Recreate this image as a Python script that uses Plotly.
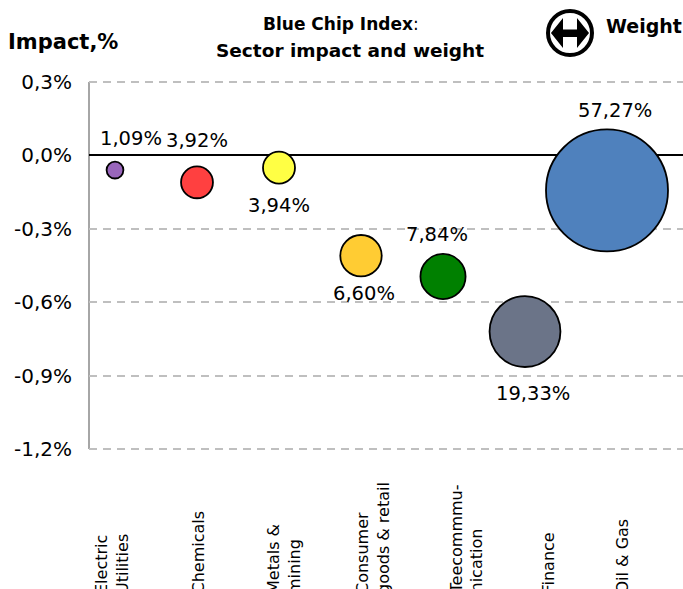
import plotly.graph_objects as go

W, H = 683, 589
positions = [1, 2, 3, 4, 5, 6, 7]
impact = [-0.06, -0.11, -0.05, -0.41, -0.495, -0.72, -0.143]
weight = [1.09, 3.92, 3.94, 6.60, 7.84, 19.33, 57.27]
weight_labels = ["1,09%", "3,92%", "3,94%", "6,60%", "7,84%", "19,33%", "57,27%"]
colors = ["#9966BB", "#FF4040", "#FFFF44", "#FFCC33", "#008000", "#6B7488", "#4F81BD"]
categories = ["Electric<br>Utilities", "Chemicals", "Metals &<br>mining", "Consumer<br>goods & retail",
              "Teecommmu-<br>nication", "Finance", "Oil & Gas"]
y_ticks = [0.3, 0.0, -0.3, -0.6, -0.9, -1.2]
y_tick_labels = ["0,3%", "0,0%", "-0,3%", "-0,6%", "-0,9%", "-1,2%"]

FONT = "DejaVu Sans"
px = lambda v: v / W
py = lambda v: 1 - v / H

fig = go.Figure(go.Scatter(
    x=positions, y=impact, mode="markers", cliponaxis=False, hoverinfo="skip",
    marker=dict(size=weight, sizemode="area", sizeref=2 * 57.27 / 122 ** 2, color=colors,
                line=dict(color="black", width=1.8), opacity=1),
))

label_offsets = [(16, 32), (0, 42), (0, -38), (3, -38), (-6, 42), (8, -62), (8, 80)]
ann = []
for x, y, t, (dx, dy) in zip(positions, impact, weight_labels, label_offsets):
    ann.append(dict(x=x, y=y, xref="x", yref="y", text=t, showarrow=False, xshift=dx, yshift=dy,
                    xanchor="center", yanchor="middle",
                    font=dict(size=19.5, color="black", family=FONT)))

cat_x = [112, 198, 284, 373, 466, 548, 622]
for x, t in zip(cat_x, categories):
    ann.append(dict(x=px(x), y=py(596), xref="paper", yref="paper", text=t, textangle=-90,
                    showarrow=False, yanchor="bottom", xanchor="center", align="left",
                    font=dict(size=16, color="black", family=FONT)))

def head(x, y, text, size):
    return dict(x=px(x), y=py(y), xref="paper", yref="paper", showarrow=False, xanchor="center",
                yanchor="middle", text=text, font=dict(size=size, color="black", family=FONT))

ann += [
    head(341, 24, "<b>Blue Chip Index</b>:", 17),
    head(350, 50, "<b>Sector impact and weight</b>", 18.5),
    head(63, 42, "<b>Impact,%</b>", 21),
    head(644, 26, "<b>Weight</b>", 19),
]

pts = [(551, 33), (563, 18), (563, 29.5), (577, 29.5), (577, 18), (589, 33),
       (577, 48), (577, 37), (563, 37), (563, 48)]
path = "M " + " L ".join(f"{px(a):.4f},{py(b):.4f}" for a, b in pts) + " Z"
shapes = [
    dict(type="circle", xref="paper", yref="paper", x0=px(548), x1=px(592), y0=py(11), y1=py(55),
         line=dict(color="black", width=4), fillcolor="white"),
    dict(type="path", xref="paper", yref="paper", path=path, line=dict(width=0), fillcolor="black"),
    dict(type="line", xref="paper", yref="paper", x0=px(89), x1=px(89), y0=py(82), y1=py(449),
         line=dict(color="#A6A6A6", width=2), layer="below"),
]

PAD = 4  # extra pixels so the gridlines at the axis ends are kept
pad_units = PAD * 1.5 / 367

fig.update_layout(
    width=W, height=H, margin=dict(l=0, r=0, t=0, b=0, pad=0, autoexpand=False), autosize=False,
    paper_bgcolor="white", plot_bgcolor="white", showlegend=False,
    annotations=ann, shapes=shapes,
    xaxis=dict(domain=[px(89), 1], range=[1 - 26 / 82, 1 + (683 - 115) / 82], showgrid=False,
               showticklabels=False, zeroline=False, showline=False, ticks=""),
    yaxis=dict(domain=[py(449 + PAD), py(82 - PAD)], range=[-1.2 - pad_units, 0.3 + pad_units],
               tickvals=y_ticks, ticktext=y_tick_labels,
               tickfont=dict(size=20, color="black", family=FONT), ticks="", ticklabelstandoff=16,
               showgrid=True, gridcolor="#BFBFBF", griddash="8px,6px", gridwidth=2,
               zeroline=True, zerolinecolor="black", zerolinewidth=2, showline=False),
)
fig.write_html("out.html", config={"displayModeBar": False},
               post_script="document.body.style.margin='0';document.documentElement.style.overflow='hidden';")
